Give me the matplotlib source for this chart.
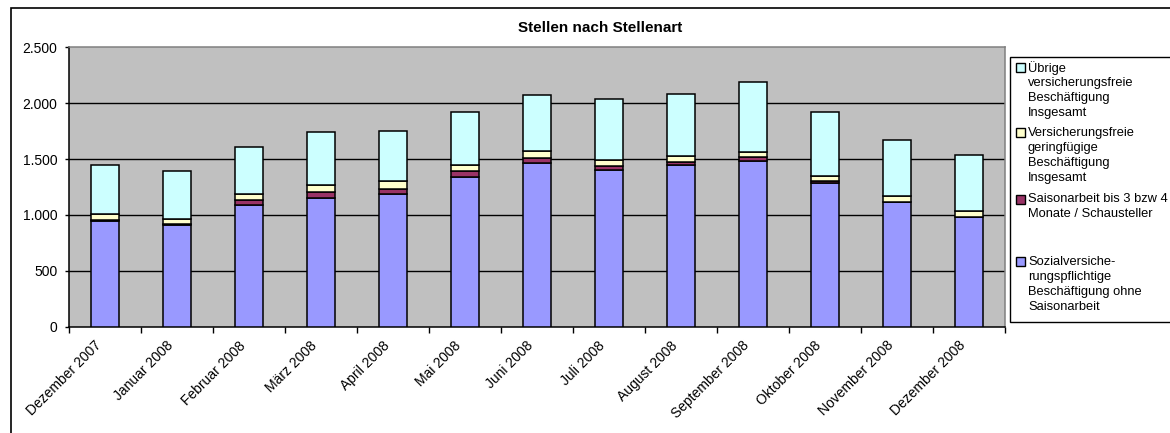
import matplotlib
matplotlib.use("Agg")
import matplotlib.pyplot as plt
from matplotlib.patches import Rectangle
from matplotlib.transforms import ScaledTranslation
import numpy as np

plt.rcParams['font.family'] = ['Liberation Sans', 'DejaVu Sans']

months = ["Dezember 2007", "Januar 2008", "Februar 2008", "März 2008", "April 2008",
          "Mai 2008", "Juni 2008", "Juli 2008", "August 2008", "September 2008",
          "Oktober 2008", "November 2008", "Dezember 2008"]

sozial = [945, 912, 1090, 1150, 1185, 1340, 1465, 1405, 1447, 1486, 1290, 1112, 978]
saison = [8, 5, 45, 55, 50, 50, 45, 30, 30, 35, 15, 8, 5]
geringfuegig = [57, 48, 53, 60, 65, 60, 65, 55, 48, 45, 40, 45, 52]
uebrige = [440, 430, 422, 475, 455, 470, 495, 545, 560, 620, 575, 510, 500]

series_labels = [
    ["Übrige", "versicherungsfreie", "Beschäftigung", "Insgesamt"],
    ["Versicherungsfreie", "geringfügige", "Beschäftigung", "Insgesamt"],
    ["Saisonarbeit bis 3 bzw 4", "Monate / Schausteller"],
    ["Sozialversiche-", "rungspflichtige", "Beschäftigung ohne", "Saisonarbeit"],
]
colors = {"sozial": "#9999FF", "saison": "#993366", "gering": "#FFFFCC", "uebrige": "#CCFFFF"}
title = "Stellen nach Stellenart"
yticks = [0, 500, 1000, 1500, 2000, 2500]
ytick_labels = ["0", "500", "1.000", "1.500", "2.000", "2.500"]

W, H = 1170, 433
fig = plt.figure(figsize=(W / 100, H / 100), dpi=100)

def fx(px):
    return px / W

def fy(py):
    return 1 - py / H

# outer chart border
fig.patches.append(Rectangle((fx(11), fy(445)), fx(1200) - fx(11), fy(8) - fy(445),
                             transform=fig.transFigure, fill=False, edgecolor="black",
                             linewidth=1.2, zorder=0))

left, right, top, bottom = 69.3, 1005, 47.3, 326.7
ax = fig.add_axes([fx(left), fy(bottom), fx(right) - fx(left), fy(top) - fy(bottom)])
ax.set_facecolor("#C0C0C0")

x = np.arange(len(months))
bw = 0.39
ek = dict(edgecolor="black", linewidth=1.1, zorder=3)
b1 = np.array(sozial)
b2 = b1 + np.array(saison)
b3 = b2 + np.array(geringfuegig)
ax.bar(x, sozial, bw, color=colors["sozial"], **ek)
ax.bar(x, saison, bw, bottom=b1, color=colors["saison"], **ek)
ax.bar(x, geringfuegig, bw, bottom=b2, color=colors["gering"], **ek)
ax.bar(x, uebrige, bw, bottom=b3, color=colors["uebrige"], **ek)

ax.set_xlim(-0.5, len(months) - 0.5)
ax.set_ylim(0, 2500)
ax.set_yticks(yticks)
ax.set_yticklabels(ytick_labels, fontsize=10)
for yv in yticks[1:-1]:
    ax.axhline(yv, color="black", linewidth=1, zorder=1)

ax.set_xticks(x)
ax.set_xticklabels(months, rotation=45, ha="right", va="center", rotation_mode="anchor", fontsize=10)
ax.tick_params(axis="x", which="major", length=0, pad=12)
shift = ScaledTranslation(-6 / 100, 0, fig.dpi_scale_trans)
for lab in ax.get_xticklabels():
    lab.set_transform(lab.get_transform() + shift)
ax.set_xticks(np.arange(-0.5, len(months)), minor=True)
ax.tick_params(axis="x", which="minor", length=4.5, width=1, direction="out", color="black")
ax.tick_params(axis="y", length=3, width=1, pad=5.5, direction="out")

for s in ["left", "bottom"]:
    ax.spines[s].set_color("black")
    ax.spines[s].set_linewidth(1.1)
for s in ["top", "right"]:
    ax.spines[s].set_color("#808080")
    ax.spines[s].set_linewidth(1.1)

fig.text(fx(600), fy(27.5), title, ha="center", va="center", fontsize=11, fontweight="bold")

# legend box
fig.patches.append(Rectangle((fx(1010), fy(322)), fx(1200) - fx(1010), fy(56.7) - fy(322),
                             transform=fig.transFigure, facecolor="white", edgecolor="black",
                             linewidth=1, zorder=1))
leg_colors = [colors["uebrige"], colors["gering"], colors["saison"], colors["sozial"]]
first_lines = [67.7, 132.7, 199.3, 261.7]
for lines, c, y0 in zip(series_labels, leg_colors, first_lines):
    fig.patches.append(Rectangle((fx(1016), fy(y0 + 4.5)), fx(9), fy(y0 - 4.5) - fy(y0 + 4.5),
                                 transform=fig.transFigure, facecolor=c, edgecolor="black",
                                 linewidth=1, zorder=2))
    for k, ln in enumerate(lines):
        fig.text(fx(1028), fy(y0 + 15 * k), ln, ha="left", va="center", fontsize=9.3, zorder=3)

fig.savefig("out.png", dpi=100)
